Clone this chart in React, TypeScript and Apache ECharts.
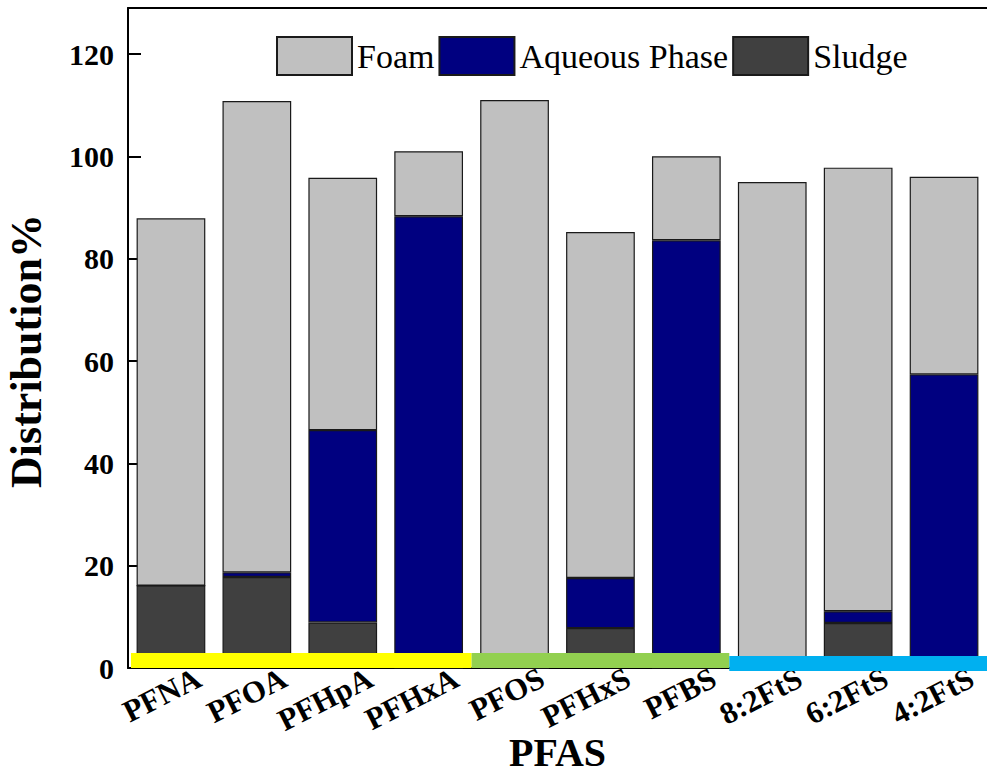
import React, { useEffect, useRef } from "react";
import * as echarts from "echarts";

const categories = ["PFNA", "PFOA", "PFHpA", "PFHxA", "PFOS", "PFHxS", "PFBS", "8:2FtS", "6:2FtS", "4:2FtS"];
const sludge = [16.1, 17.8, 8.9, 0, 0, 7.8, 0, 0, 8.8, 0];
const aqueous = [0, 0.9, 37.6, 88.3, 0, 9.8, 83.6, 0, 2.3, 57.4];
const foam = [71.8, 92.1, 49.3, 12.7, 111.0, 67.6, 16.4, 95.0, 86.7, 38.6];
const yTicks = [0, 20, 40, 60, 80, 100, 120];
// groups of PFAS (first and last category index)
const groups = [
  [0, 3],
  [4, 6],
  [7, 9],
];
const groupColors = ["#FFFF00", "#92D050", "#00B0F0"];
const groupShift = [0, 0, 3];

const FONT = "'Liberation Serif', 'Times New Roman', serif";

export default function App() {
  const ref = useRef<HTMLDivElement>(null);
  useEffect(() => {
    if (!ref.current) return;
    const chart = echarts.init(ref.current, null, { renderer: "svg" });
    const border = { borderColor: "#1a1a1a", borderWidth: 1.2 };
    chart.setOption({
      animation: false,
      backgroundColor: "#ffffff",
      textStyle: { fontFamily: FONT },
      grid: { left: 128, right: 0, top: 8, bottom: 106, containLabel: false, outerBoundsMode: "none" },
      legend: {
        data: ["Foam", "Aqueous Phase", "Sludge"],
        left: 271,
        top: 31,
        itemWidth: 75,
        itemHeight: 38,
        itemGap: 4,
        icon: "rect",
        textStyle: { fontFamily: FONT, fontSize: 34, color: "#000" },
      },
      xAxis: [
        {
          type: "category",
          data: categories,
          position: "bottom",
          name: "PFAS",
          nameLocation: "middle",
          nameGap: 69,
          nameMoveOverlap: false,
          nameTextStyle: {
            fontFamily: FONT,
            fontSize: 40,
            fontWeight: "bold",
            color: "#000",
            verticalAlign: "top",
            lineHeight: 30,
          },
          axisLine: { show: true, lineStyle: { color: "#000", width: 2 } },
          axisTick: { show: true, inside: true, length: 13, alignWithLabel: true, lineStyle: { color: "#000", width: 1.5 } },
          axisLabel: {
            rotate: 27,
            margin: 22,
            align: "right",
            verticalAlign: "middle",
            padding: [0, -31, 0, 0],
            fontFamily: FONT,
            fontSize: 31,
            fontWeight: "bold",
            color: "#000",
            interval: 0,
          },
        },
        {
          type: "category",
          data: categories,
          position: "top",
          axisLine: { show: true, lineStyle: { color: "#000", width: 2 } },
          axisTick: { show: false },
          axisLabel: { show: false },
        },
      ],
      yAxis: {
        type: "value",
        min: 0,
        max: 129,
        interval: 20,
        name: "Distribution%",
        nameLocation: "middle",
        nameGap: 80,
        nameRotate: 90,
        nameMoveOverlap: false,
        nameTextStyle: { fontFamily: FONT, fontSize: 44, fontWeight: "bold", color: "#000", padding: [0, 26, 0, 0] },
        axisLine: { show: true, lineStyle: { color: "#000", width: 2 } },
        axisTick: { show: true, inside: true, length: 13, lineStyle: { color: "#000", width: 2 } },
        axisLabel: {
          showMaxLabel: false,
          margin: 14,
          fontFamily: FONT,
          fontSize: 30,
          fontWeight: "bold",
          color: "#000",
          formatter: (v: number) => (yTicks.includes(v) ? String(v) : ""),
        },
        splitLine: { show: false },
      },
      series: [
        {
          name: "Sludge",
          type: "bar",
          stack: "total",
          barCategoryGap: "20%",
          data: sludge,
          itemStyle: { color: "#404040", ...border },
        },
        {
          name: "Aqueous Phase",
          type: "bar",
          stack: "total",
          barCategoryGap: "20%",
          data: aqueous,
          itemStyle: { color: "#000080", ...border },
        },
        {
          name: "Foam",
          type: "bar",
          stack: "total",
          barCategoryGap: "20%",
          data: foam,
          itemStyle: { color: "#C0C0C0", ...border },
        },
        {
          name: "groups",
          type: "custom",
          z: 5,
          silent: true,
          data: groups.map((g, i) => [g[0], g[1], i]),
          encode: { x: [0, 1] },
          renderItem: (params: any, api: any) => {
            const a = api.coord([api.value(0), 0]);
            const b = api.coord([api.value(1), 0]);
            const w = api.size([1, 0])[0];
            const idx = api.value(2);
            const y0 = a[1] + groupShift[idx];
            const x1 = a[0] - w / 2 + (idx === 0 ? 3 : 0);
            const x2 = b[0] + w / 2;
            return {
              type: "rect",
              shape: { x: x1, y: y0 - 15, width: x2 - x1, height: 15 },
              style: { fill: groupColors[idx] },
            };
          },
        },
      ],
    });
    return () => chart.dispose();
  }, []);
  return (
    <div
      ref={ref}
      style={{ position: "absolute", left: 0, top: 0, width: 987, height: 774 }}
    />
  );
}
